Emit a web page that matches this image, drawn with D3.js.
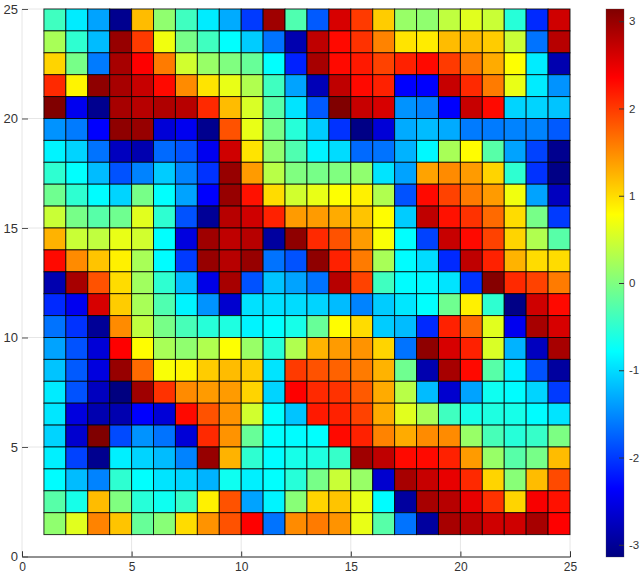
<!DOCTYPE html>
<html>
<head>
<meta charset="utf-8">
<style>
  body { margin: 0; background: #fff; }
  text { font-family: "Liberation Sans", Arial, sans-serif; font-size: 13px; fill: #333; }
</style>
<script src="https://cdn.jsdelivr.net/npm/d3@7"></script>
</head>
<body>
<div id="main"></div>
<script>
// cell values, rows listed top to bottom (y = 24 first), columns x = 1..24
var row24 = [-.4,-.9,-1.35,-3.05,1.2,.1,-.4,-.9,-1.3,-2,2.95,-.3,-1.8,2.6,2,1.1,.15,.1,.4,.6,.45,-.55,-2.1,2.65];
var row23 = [.25,-.5,-1.2,3,2,.7,-.05,-.4,-.78,-1.1,-1.65,-2.85,2.75,2.3,2.05,1.55,.95,.9,1.2,1.2,1.1,.45,-1.65,2.8];
var row22 = [1.05,-.05,-1.6,2.9,2.36,1.6,.5,.15,0,-.15,-.78,-2.15,2.9,2.3,2.2,1.95,2.15,2.3,2,1.6,1.3,.78,-.9,-2.85];
var row21 = [2.1,.85,3.05,2.9,2.7,2.3,1.5,.95,.65,.3,-.4,-1.35,-2.8,2.75,2.3,2.15,-2.36,-2.36,2.7,2.1,1.6,.65,-.9,-1.45];
var row20 = [3.14,-2.45,-3.05,2.9,2.8,2.85,2.8,2.1,1.2,.55,-.25,-.95,-1.8,3.14,2.7,2.6,-1.45,-1.55,-2.36,2.7,2.3,-1.05,-1.05,-1.15];
var row19 = [-1.45,-1.6,-2.36,3.05,3,-2.6,-2.45,-3.05,1.85,.65,-.05,-.55,-1.1,-2.05,-3.1,-2.6,-1.3,-1.2,-1.3,-1.6,-1.6,-1.55,-1.55,-1.8];
var row18 = [-.85,-1.05,-1.65,-2.75,-2.85,-1.7,-1.85,-2.45,2.65,.95,.1,-.3,-.85,-1,-1.7,-1.65,-1.25,-.82,.25,.8,-.25,-1.35,-1.95,-3.05];
var row17 = [-.5,-.78,-1.2,-1.85,-1.55,-1.1,-1.55,-2.05,3,1.4,.35,0,-.05,0,.1,-.95,-1.35,1.35,1.5,1.4,1.05,-.5,-2.05,-3.1];
var row16 = [-.1,-.5,-.8,-1.05,-.05,-.78,-1.35,-2.36,3,2.25,1,.5,.65,.78,.87,.3,-1.85,2.3,1.95,1.6,1.4,.7,-1.35,-2.75];
var row15 = [.45,-.05,-.25,-.1,.6,-.5,-1.85,-3,2.8,2.65,2.15,1.4,1.4,1.3,1.15,.8,-1.1,2.75,2.25,2.05,1.7,1,-.05,-2];
var row14 = [1.25,.45,.4,.65,.5,-.78,-2.55,2.95,2.75,2.8,-2.95,3.05,2.1,1.85,1.4,.75,-.78,-1.95,2.7,2.3,1.95,1.05,.3,-.25];
var row13 = [2.3,1.5,1.15,.87,.25,-.8,-2,3,2.8,3,-1.65,-1.85,3.05,2.15,1.6,.25,-.8,-1,-2.1,2.75,2.15,1.25,1,1];
var row12 = [-2.85,2.9,1.85,1,.2,-.5,-1.2,-2.5,2.9,-1.85,-1.15,-1.35,-1.65,2.8,1.95,-.4,-.8,-.82,-.95,-2.05,3.1,2.1,1.95,1.6];
var row11 = [-2.1,-2.45,2.6,1.1,.25,-.3,-.85,-1.45,-2.65,-.97,-.97,-1,-1.05,-1.2,-1.55,-1.1,-.93,-.78,-.1,.87,-.5,-3.1,2.65,2.3];
var row10 = [-1.65,-2.05,-3,1.5,.4,-.05,-.35,-.55,-.6,-.85,-.78,-.65,-.15,.8,1,-1.1,-1.2,-2.1,2.15,1.7,.6,-2.45,2.9,2.6];
var row9 = [-1.35,-1.85,-2.6,2.36,.8,.25,.1,.3,.78,.15,-.55,.3,1.25,1.4,1.45,1.05,-1.65,3.05,2.6,2.15,.55,-1.25,-2.75,2.9];
var row8 = [-1.15,-1.8,-2.55,3,1.7,.75,.85,1.1,1.2,1.1,-.95,2,1.85,1.75,1.6,1.25,-.1,-2.85,2.9,2.3,-.25,-.88,-1.85,-2.95];
var row7 = [-.9,-1.85,-2.75,-3.14,2.95,2.05,1.5,1.4,1.4,1.05,-1.05,2.36,2.1,2.05,1.8,1.3,.35,-1.2,-2.65,-1.35,-.7,-.8,-1.05,-2];
var row6 = [-.93,-2.55,-2.85,-2.85,-2.36,-2.6,2.3,1.85,1.45,.5,-.78,-1.15,2.2,2.15,1.95,1.3,.6,.25,-.4,-.65,-.6,-.65,-.8,-.95];
var row5 = [-1.05,-2.65,3.14,-1.9,-1.45,-1.65,-2.6,2.1,1.45,-.15,-.78,-.8,-.78,2.3,2.15,1.55,1.3,1.5,1.5,.15,-.35,-.55,-.45,-.02];
var row4 = [-.88,-1.95,-3.05,-.88,-1.05,-1.2,-1.55,3,1.25,-.5,-.8,-.65,-.6,-.45,2.95,2.75,2.3,2.3,2.15,1.4,.15,-.25,-.05,1.2];
var row3 = [-.8,-1.2,-1.55,-.5,-.78,-.95,-1.05,-1.25,-.7,-.88,-.78,-.55,-.05,.45,.15,-2.65,2.9,2.7,2.5,2.1,1.05,.05,1.2,1.9];
var row2 = [-.25,-.65,1.2,0,-.55,-.7,-.45,.87,1.85,-1.35,-.85,.05,1.05,1.15,.65,-.8,-2.95,2.9,2.8,2.5,2.05,1.05,2.4,2.25];
var row1 = [.1,.6,1.55,1.15,-.15,.05,1,1.45,1.85,2.36,-1.65,1.5,1.6,1.45,.65,-.25,-1.65,-2.95,2.9,2.8,2.65,2.65,2.9,2.36];

var rows = [row24, row23, row22, row21, row20, row19, row18, row17, row16, row15, row14, row13,
  row12, row11, row10, row9, row8, row7, row6, row5, row4, row3, row2, row1];

var axisTicks = [0, 5, 10, 15, 20, 25];
var barTicks = [-3, -2, -1, 0, 1, 2, 3];

// jet colormap
var valueRange = [-3.14, 3.14];
var jetStops = [0, 0.125, 0.375, 0.625, 0.875, 1];
var jetColors = ['#000080', '#0000ff', '#00ffff', '#ffff00', '#ff0000', '#800000'];

var width = 640,
  height = 574;

var svg = d3.select("#main").append("svg")
  .attr("width", width)
  .attr("height", height)
  .style("display", "block");

var x = d3.scaleLinear().domain([0, 25]).range([22, 570]);
var y = d3.scaleLinear().domain([0, 25]).range([556.5, 9]);
var barY = d3.scaleLinear().domain(valueRange).range([557, 9]);

var color = d3.scaleLinear()
  .domain(jetStops.map(function(d) {
    return valueRange[0] + d * (valueRange[1] - valueRange[0]);
  }))
  .range(jetColors)
  .interpolate(d3.interpolateRgb)
  .clamp(true);

// faint grid lines behind the cells
svg.append("g").selectAll("line")
  .data(axisTicks.slice(1))
  .enter().append("line")
  .attr("x1", function(d) { return x(d); })
  .attr("x2", function(d) { return x(d); })
  .attr("y1", y(0))
  .attr("y2", y(25))
  .attr("stroke", "#e6e6e6");

svg.append("g").selectAll("line")
  .data(axisTicks.slice(1))
  .enter().append("line")
  .attr("x1", x(0))
  .attr("x2", x(25))
  .attr("y1", function(d) { return y(d); })
  .attr("y2", function(d) { return y(d); })
  .attr("stroke", "#e6e6e6");

svg.append("line")
  .attr("x1", x(0))
  .attr("x2", x(0))
  .attr("y1", y(0))
  .attr("y2", y(25))
  .attr("stroke", "#e6e6e6");

// cells
var rowG = svg.selectAll(".cellRow")
  .data(rows)
  .enter().append("g")
  .attr("class", "cellRow")
  .attr("transform", function(d, i) {
    return "translate(0," + y(25 - i) + ")";
  });

rowG.selectAll("rect")
  .data(function(d) { return d; })
  .enter().append("rect")
  .attr("x", function(d, i) { return x(i + 1); })
  .attr("width", x(2) - x(1))
  .attr("height", y(1) - y(2))
  .attr("fill", function(d) { return color(d); })
  .attr("stroke", "#000")
  .attr("stroke-opacity", 0.8)
  .attr("stroke-width", 1);

// bottom axis
var xAxis = svg.append("g")
  .attr("transform", "translate(0," + y(0) + ")")
  .call(d3.axisBottom(x).tickValues(axisTicks).tickSize(-5).tickPadding(6));
xAxis.select(".domain").attr("stroke", "#222");
xAxis.selectAll(".tick line").attr("stroke", "#333");
xAxis.selectAll("text").style("font-size", "12px").attr("dy", "0.71em");

// left axis
var yAxis = svg.append("g")
  .attr("transform", "translate(" + x(0) + ",0)")
  .call(d3.axisLeft(y).tickValues(axisTicks).tickSize(-6).tickPadding(4));
yAxis.select(".domain").remove();
yAxis.selectAll(".tick line").attr("stroke", "#555");
yAxis.selectAll("text").style("font-size", "13px");

// colorbar
var defs = svg.append("defs");
var grad = defs.append("linearGradient")
  .attr("id", "jetGrad")
  .attr("x1", 0).attr("x2", 0)
  .attr("y1", 1).attr("y2", 0);

grad.selectAll("stop")
  .data(jetStops)
  .enter().append("stop")
  .attr("offset", function(d) { return d; })
  .attr("stop-color", function(d, i) { return jetColors[i]; });

svg.append("rect")
  .attr("x", 606)
  .attr("y", barY(valueRange[1]))
  .attr("width", 18)
  .attr("height", barY(valueRange[0]) - barY(valueRange[1]))
  .attr("fill", "url(#jetGrad)")
  .attr("stroke", "#444")
  .attr("stroke-opacity", 0.5)
  .attr("stroke-width", 0.6);

var barAxis = svg.append("g")
  .attr("transform", "translate(624,0)")
  .call(d3.axisRight(barY).tickValues(barTicks).tickSize(-5).tickPadding(5)
    .tickFormat(function(d) { return d; }));
barAxis.select(".domain").remove();
barAxis.selectAll(".tick line").attr("stroke", "#333");
barAxis.selectAll("text").style("font-size", "11.5px");
</script>
</body>
</html>
